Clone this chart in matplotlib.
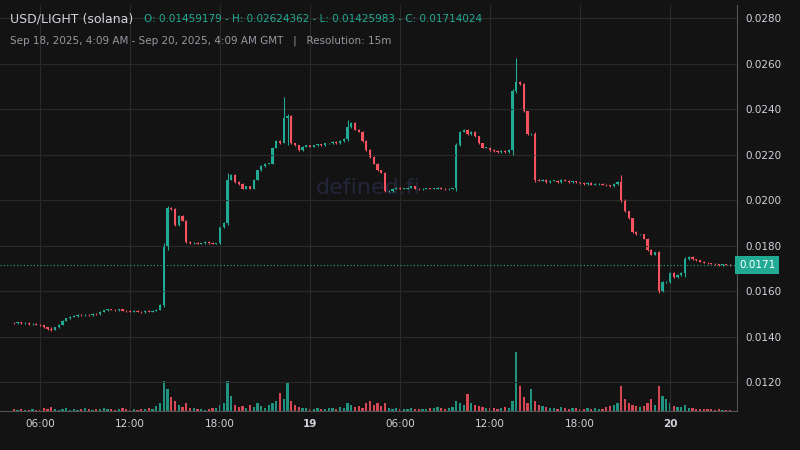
import matplotlib
matplotlib.use("Agg")
import matplotlib.pyplot as plt
import numpy as np

open0 = 0.01459179
closes = [
0.01459,0.01462,0.01458,0.01460,0.01455,0.01457,0.01452,0.01450,
0.01440,0.01432,0.01430,0.01440,0.01452,0.01470,0.01480,0.01488,
0.01490,0.01495,0.01493,0.01497,0.01495,0.01500,0.01498,0.01510,
0.01515,0.01520,0.01518,0.01516,0.01520,0.01514,0.01512,0.01510,
0.01512,0.01510,0.01508,0.01512,0.01510,0.01514,0.01518,0.01540,
0.01800,0.01965,0.01960,0.01890,0.01930,0.01910,0.01815,0.01810,
0.01812,0.01808,0.01810,0.01815,0.01812,0.01808,0.01810,0.01880,
0.01900,0.02090,0.02110,0.02080,0.02070,0.02050,0.02060,0.02050,
0.02090,0.02130,0.02150,0.02160,0.02160,0.02230,0.02260,0.02250,
0.02360,0.02370,0.02250,0.02240,0.02220,0.02235,0.02240,0.02235,
0.02240,0.02245,0.02240,0.02250,0.02250,0.02255,0.02250,0.02260,
0.02270,0.02320,0.02340,0.02310,0.02300,0.02260,0.02220,0.02190,
0.02160,0.02130,0.02120,0.02040,0.02040,0.02050,0.02055,0.02050,
0.02050,0.02055,0.02060,0.02050,0.02048,0.02050,0.02052,0.02050,
0.02050,0.02055,0.02050,0.02048,0.02050,0.02052,0.02240,0.02300,
0.02310,0.02290,0.02300,0.02280,0.02250,0.02230,0.02230,0.02220,
0.02215,0.02210,0.02215,0.02210,0.02220,0.02480,0.02520,0.02510,
0.02390,0.02290,0.02290,0.02090,0.02085,0.02090,0.02080,0.02085,
0.02085,0.02080,0.02088,0.02085,0.02080,0.02082,0.02078,0.02075,
0.02070,0.02075,0.02068,0.02070,0.02072,0.02068,0.02065,0.02060,
0.02070,0.02080,0.02000,0.01950,0.01920,0.01860,0.01850,0.01850,
0.01830,0.01780,0.01760,0.01770,0.01600,0.01640,0.01640,0.01680,
0.01660,0.01670,0.01680,0.01740,0.01750,0.01740,0.01735,0.01730,
0.01725,0.01722,0.01720,0.01718,0.01715,0.01718,0.01716,0.01714,
]
# explicit wick extremes for notable candles: index -> (high, low)
wick_extremes = {10: (0.01440, 0.01426), 40: (0.01810, 0.01530), 41: (0.01975, 0.01780),
                 57: (0.02120, 0.01890), 72: (0.02455, 0.02250), 73: (0.02380, 0.02240),
                 89: (0.02350, 0.02260), 118: (0.02250, 0.02040), 133: (0.02490, 0.02200),
                 134: (0.02624, 0.02470), 139: (0.02300, 0.02080), 162: (0.02110, 0.01990),
                 172: (0.01775, 0.01590), 179: (0.01750, 0.01660)}
volumes = [
2,1,2,1,1,2,1,1, 3,2,4,2,1,2,3,1, 2,1,2,3,2,1,2,2, 3,2,2,1,2,3,2,1,
2,1,2,2,3,2,5,8, 30,22,14,10,6,4,8,3, 3,2,2,1,2,3,3,6, 8,30,15,6,4,5,3,6,
4,8,5,3,6,8,10,18, 12,28,10,6,4,3,3,2, 2,3,2,2,3,3,2,4, 3,8,6,4,5,3,8,10,
6,8,5,8,3,2,3,2, 2,2,3,2,2,2,2,3, 3,4,3,2,3,4,10,8, 6,17,8,6,5,4,3,3,
3,2,3,4,3,10,59,25, 14,8,22,10,6,5,4,3, 3,2,4,3,2,3,3,2, 2,3,2,3,2,2,4,5,
6,8,25,12,8,6,5,4, 5,8,12,6,25,15,12,8, 5,4,4,6,3,3,2,2, 2,2,2,1,2,1,1,1,
]
xtick_pos = [7, 31, 55, 79, 103, 127, 151, 175]
xtick_labels = ["06:00", "12:00", "18:00", "19", "06:00", "12:00", "18:00", "20"]
yticks = [0.0120, 0.0140, 0.0160, 0.0180, 0.0200, 0.0220, 0.0240, 0.0260, 0.0280]

BG = "#131313"
GREEN = "#22ab94"
RED = "#f7525f"
GRID = "#2a2a2a"

closes = np.array(closes)
opens = np.concatenate([[open0], closes[:-1]])
n = len(closes)
x = np.arange(n)
highs = np.maximum(opens, closes) + 0.00003
lows = np.minimum(opens, closes) - 0.00003
for i, (h, l) in wick_extremes.items():
    highs[i] = h; lows[i] = l
up = closes >= opens
colors = np.where(up, GREEN, RED)

fig = plt.figure(figsize=(8, 4.5), dpi=100, facecolor=BG)
ax = fig.add_axes([0.0, 0.0867, 0.921, 0.902])
ax.set_facecolor(BG)
axv = ax.twinx()
axv.set_ylim(0, 406)
axv.bar(x, volumes, width=0.6, color=colors, alpha=0.85)
axv.set_yticks([])
ax.set_zorder(axv.get_zorder() + 1)
ax.patch.set_visible(False)
axv.set_facecolor(BG)

ax.vlines(x, lows, highs, colors=colors, linewidth=0.8)
body_b = np.minimum(opens, closes)
body_h = np.maximum(np.abs(closes - opens), 0.00002)
ax.bar(x, body_h, bottom=body_b, width=0.6, color=colors, linewidth=0)

ax.set_xlim(-3.7, 192.8)
ax.set_ylim(0.01073, 0.02857)
ax.yaxis.tick_right()
ax.set_yticks(yticks)
ax.set_yticklabels([f"{v:.4f}" for v in yticks], color="#d1d4dc", fontsize=7.5)
ax.set_xticks(xtick_pos)
ax.set_xticklabels(xtick_labels, color="#d1d4dc", fontsize=7.5)
for lbl in ax.get_xticklabels():
    if lbl.get_text() in ("19", "20"):
        lbl.set_fontweight("bold")
ax.tick_params(length=0, pad=6)
ax.grid(True, color=GRID, linewidth=0.8)
for s in ax.spines.values():
    s.set_visible(False)
for s in axv.spines.values():
    s.set_visible(False)
ax.spines["right"].set_visible(True)
ax.spines["right"].set_color("#555555")
ax.spines["bottom"].set_visible(True)
ax.spines["bottom"].set_color("#555555")

last = closes[-1]
ax.axhline(last, color=GREEN, linestyle=(0, (1, 2)), linewidth=0.8)
ax.text(1.003, last, f"{last:.4f}", transform=ax.get_yaxis_transform(), ha="left", va="center",
        fontsize=7.5, color="white", bbox=dict(boxstyle="square,pad=0.35", fc=GREEN, ec="none"),
        clip_on=False)

ax.text(0.5, 0.55, "defined.fi", transform=ax.transAxes, ha="center", va="center",
        fontsize=16, color="#23253a", zorder=0)
fig.text(0.012, 0.958, "USD/LIGHT (solana)", color="#d1d4dc", fontsize=9, va="center")
fig.text(0.18, 0.958, "O: 0.01459179 - H: 0.02624362 - L: 0.01425983 - C: 0.01714024",
         color=GREEN, fontsize=7.5, va="center")
fig.text(0.012, 0.91, "Sep 18, 2025, 4:09 AM - Sep 20, 2025, 4:09 AM GMT   |   Resolution: 15m",
         color="#9598a1", fontsize=7.5, va="center")

fig.savefig("out.png", dpi=100, facecolor=BG)
